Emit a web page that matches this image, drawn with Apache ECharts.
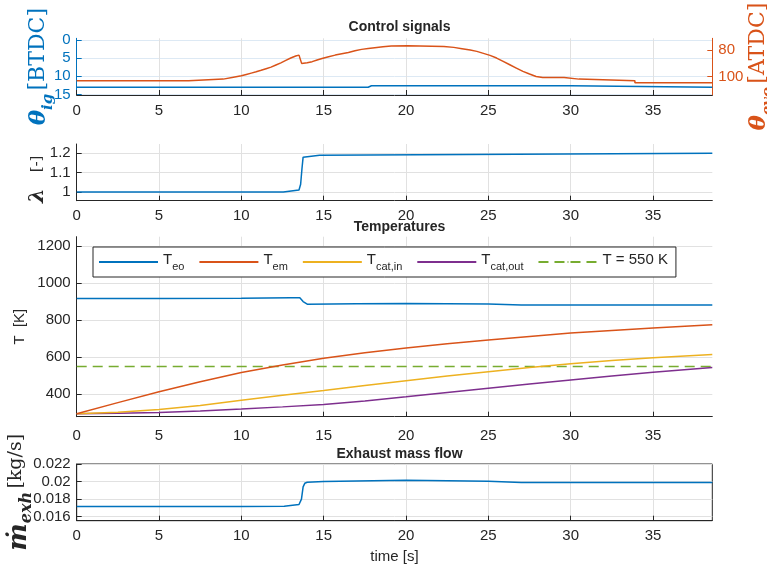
<!DOCTYPE html>
<html><head><meta charset="utf-8">
<script src="https://cdn.jsdelivr.net/npm/echarts@6/dist/echarts.min.js"></script>
<style>html,body{margin:0;padding:0;background:#fff}#c{width:767px;height:571px}</style>
</head><body><div id="c"></div>
<script>
// ---------- data ----------
const xTicks = [0, 5, 10, 15, 20, 25, 30, 35];
const X_MAX = 38.6;

// Control signals
const igTime = [0, 17.7, 17.9, 30.0, 30.1, 38.6];
const igVal  = [13.0, 13.0, 12.6, 12.6, 13.0, 13.0];
const igTicks = [0, 5, 10, 15];

const evoTime = [0, 6.8, 6.8, 8.9, 8.9, 9.6, 10.0, 10.3, 10.6, 10.9, 11.2, 11.5, 11.8, 12.1, 12.4, 12.7, 13.0, 13.3, 13.5, 13.62, 13.66, 14.0, 14.3, 14.6, 14.9, 15.3, 15.7, 16.1, 16.5, 16.9, 17.3, 17.7, 18.1, 18.6, 19.1, 20.1, 22.3, 22.9, 23.4, 23.9, 24.3, 24.7, 25.1, 25.5, 25.9, 26.3, 26.7, 27.1, 27.5, 27.9, 28.3, 29.6, 29.6, 30.5, 30.5, 33.9, 33.9, 38.6];
const evoVal  = [103, 103, 101.8, 101.8, 100.6, 100.2, 99.3, 98.3, 97.3, 96.3, 95.2, 94, 92.8, 91.2, 89.6, 87.8, 86, 84.5, 83.8, 83.8, 90, 89.5, 88.7, 87.5, 86.3, 85, 83.8, 82.8, 81.8, 80.6, 79.5, 78.9, 78.3, 77.6, 77, 76.8, 77.3, 78, 79, 80, 81, 82.5, 84, 86, 88.5, 91, 93.5, 96, 98, 99.8, 100.6, 100.6, 101.8, 101.8, 103, 103, 104.5, 104.5];
const evoTicks = [80, 100];

// lambda
const lamTime = [0, 12.55, 12.6, 13.5, 13.6, 13.68, 13.75, 13.85, 14.75, 14.8, 38.6];
const lamVal  = [1.0, 1.0, 1.01, 1.01, 1.04, 1.12, 1.18, 1.19, 1.19, 1.2, 1.2];
const lamTicks = [1, 1.1, 1.2];

// Temperatures
const tTime  = [0, 2.5, 5, 7.5, 10, 12.5, 15, 17.5, 20, 22.5, 25, 27.5, 30, 32.5, 35, 38.6];
const tEm    = [295, 355, 414, 468, 517, 558, 594, 624, 649, 673, 693, 712, 730, 744, 757, 775];
const tCatIn = [295, 303, 318, 340, 368, 395, 420, 447, 473, 498, 522, 545, 565, 582, 597, 615];
const tCatOut= [295, 297, 302, 310, 320, 332, 345, 364, 386, 409, 432, 455, 477, 498, 519, 544];
const eoTime = [0, 5, 10, 13.0, 13.55, 13.75, 14.0, 17, 20, 25, 27, 30, 38.6];
const tEo    = [917, 917, 918, 921, 921, 900, 886, 888, 890, 887, 882, 881, 881];
const tLimit = 550;
const tTicks = [400, 600, 800, 1000, 1200];

// Exhaust mass flow
const mTime = [0, 5, 10, 12.6, 13.5, 13.65, 13.75, 13.85, 14.0, 15, 20, 25, 27, 30, 38.6];
const mVal  = [0.01715, 0.01715, 0.01716, 0.0172, 0.01738, 0.0180, 0.0194, 0.0198, 0.01992, 0.0200, 0.02015, 0.02003, 0.0199, 0.01988, 0.01988];
const mTicks = [0.016, 0.018, 0.02, 0.022];

// ---------- helpers ----------
const pair = (xs, ys) => xs.map((x, i) => [x, ys[i]]);
const DARK = '#262626', BLUE = '#0072BD', ORANGE = '#D95319', YEL = '#EDB120', PURP = '#7E2F8E', GREEN = '#77AC30';
const GRIDC = '#e1e1e1';
const SANS = 'Liberation Sans', SERIF = 'DejaVu Serif';

function xAx(grid, margin, showName) {
  const a = {
    type: 'value', gridIndex: grid, min: 0, max: X_MAX,
    axisLine: { show: true, onZero: false, lineStyle: { color: DARK, width: 1 } },
    axisTick: { show: true, inside: true, length: 5, lineStyle: { color: DARK }, customValues: xTicks },
    axisLabel: { color: DARK, fontSize: 15, fontFamily: SANS, margin: margin, customValues: xTicks },
    splitLine: { show: true, lineStyle: { color: GRIDC, width: 1 } }
  };
  if (showName) {
    a.name = 'time [s]'; a.nameLocation = 'middle'; a.nameGap = 29; a.nameMoveOverlap = false;
    a.nameTextStyle = { color: DARK, fontSize: 15, fontFamily: SANS };
  }
  return a;
}
function yAx(grid, min, max, ticks, color, opts) {
  return Object.assign({
    type: 'value', gridIndex: grid, min: min, max: max, nameMoveOverlap: false,
    axisLine: { show: true, onZero: false, lineStyle: { color: color, width: 1 } },
    axisTick: { show: true, inside: true, length: 5, lineStyle: { color: color }, customValues: ticks },
    axisLabel: { color: color, fontSize: 15, fontFamily: SANS, margin: 6, customValues: ticks,
      formatter: v => String(+v.toFixed(4)) },
    splitLine: { show: true, lineStyle: { color: GRIDC, width: 1 } }
  }, opts || {});
}
function line(name, xi, yi, data, color, extra) {
  return Object.assign({
    name: name, type: 'line', xAxisIndex: xi, yAxisIndex: yi, data: data,
    showSymbol: false, symbol: 'none', animation: false, silent: true,
    lineStyle: { color: color, width: 1.5 }, itemStyle: { color: color }
  }, extra || {});
}
function gridBox(top, height, extra) {
  return Object.assign({ left: 76.7, right: 54.7, top: top, height: height,
    containLabel: false, outerBoundsMode: 'none' }, extra || {});
}
function mathRich(color, gSize, sSize, bSize) {
  return {
    g: { fontFamily: SERIF, fontWeight: 'bold', fontStyle: 'italic', fontSize: gSize, color: color, lineHeight: 28, verticalAlign: 'top' },
    s: { fontFamily: SERIF, fontWeight: 'bold', fontStyle: 'italic', fontSize: sSize, color: color, lineHeight: sSize, verticalAlign: 'bottom' },
    b: { fontFamily: SERIF, fontSize: bSize, color: color, lineHeight: 28, verticalAlign: 'top' }
  };
}

const legendLabels = {
  'Teo': '{m|T}{s|eo}', 'Tem': '{m|T}{s|em}', 'Tcat,in': '{m|T}{s|cat,in}',
  'Tcat,out': '{m|T}{s|cat,out}', 'T = 550 K': '{m|T = 550 K}'
};

const option = {
  animation: false,
  backgroundColor: '#fff',
  title: [
    { text: 'Control signals', left: 394.5, top: 15, textAlign: 'center',
      textStyle: { fontSize: 14, fontWeight: 'bold', color: DARK, fontFamily: SANS } },
    { text: 'Temperatures', left: 394.5, top: 215, textAlign: 'center',
      textStyle: { fontSize: 14, fontWeight: 'bold', color: DARK, fontFamily: SANS } },
    { text: 'Exhaust mass flow', left: 394.5, top: 442, textAlign: 'center',
      textStyle: { fontSize: 14, fontWeight: 'bold', color: DARK, fontFamily: SANS } }
  ],
  grid: [
    gridBox(38.3, 56.7),
    gridBox(144, 56.7),
    gridBox(236.7, 180),
    gridBox(464, 56.7, { show: true, borderColor: DARK, borderWidth: 1 })
  ],
  xAxis: [xAx(0, 8), xAx(1, 8), xAx(2, 12), xAx(3, 8, true)],
  yAxis: [
    yAx(0, -0.47, 15.14, igTicks, BLUE, {
      inverse: true,
      splitLine: { show: true, lineStyle: { color: '#dde9f4', width: 1 } },
      name: '{g|θ}{s|ig} {b|[BTDC]}', nameLocation: 'middle', nameRotate: 90, nameGap: 21,
      nameTextStyle: { rich: mathRich(BLUE, 23, 15, 22) }
    }),
    yAx(0, 71.2, 113.7, evoTicks, ORANGE, {
      inverse: true, position: 'right',
      splitLine: { show: false },
      name: '{g|θ}{s|evo} {b|[ATDC]}', nameLocation: 'middle', nameRotate: 90, nameGap: 35,
      nameTextStyle: { rich: mathRich(ORANGE, 23, 15, 22) }
    }),
    yAx(1, 0.955, 1.248, lamTicks, DARK, {
      name: '{g|λ}{b|[-]}', nameLocation: 'middle', nameRotate: 90, nameGap: 29,
      nameTextStyle: { rich: {
        g: { fontFamily: SERIF, fontWeight: 'bold', fontStyle: 'italic', fontSize: 21, color: DARK },
        b: { fontFamily: SERIF, fontSize: 15, color: DARK, padding: [0, 14, 0, 16] } } }
    }),
    yAx(2, 279, 1250, tTicks, DARK, {
      name: 'T  [K]', nameLocation: 'middle', nameRotate: 90, nameGap: 49,
      nameTextStyle: { fontFamily: SANS, fontSize: 15, color: DARK }
    }),
    yAx(3, 0.01554, 0.022, mTicks, DARK, {
      name: '{g|ṁ}{s|exh} {b|[kg/s]}', nameLocation: 'middle', nameRotate: 90, nameGap: 42,
      nameTextStyle: { rich: mathRich(DARK, 26, 16, 19) }
    })
  ],
  legend: {
    left: 93, top: 247, padding: [5, 8, 5, 5], itemGap: 14, itemWidth: 59, itemHeight: 2,
    backgroundColor: '#fff', borderColor: DARK, borderWidth: 1, borderRadius: 0,
    data: ['Teo', 'Tem', 'Tcat,in', 'Tcat,out', 'T = 550 K'],
    formatter: n => legendLabels[n],
    textStyle: { color: DARK, fontFamily: SANS, rich: {
      m: { fontSize: 15, fontFamily: SANS, color: DARK, lineHeight: 20, verticalAlign: 'top' },
      s: { fontSize: 11, fontFamily: SANS, color: DARK, lineHeight: 11, verticalAlign: 'bottom' } } }
  },
  series: [
    line('ig', 0, 0, pair(igTime, igVal), BLUE),
    line('evo', 0, 1, pair(evoTime, evoVal), ORANGE),
    line('lambda', 1, 2, pair(lamTime, lamVal), BLUE),
    line('T = 550 K', 2, 3, [[0, tLimit], [X_MAX, tLimit]], GREEN, { lineStyle: { color: GREEN, width: 1.5, type: [10, 6] } }),
    line('Tcat,out', 2, 3, pair(tTime, tCatOut), PURP),
    line('Tcat,in', 2, 3, pair(tTime, tCatIn), YEL),
    line('Tem', 2, 3, pair(tTime, tEm), ORANGE),
    line('Teo', 2, 3, pair(eoTime, tEo), BLUE),
    line('mdot', 3, 4, pair(mTime, mVal), BLUE)
  ]
};
const chart = echarts.init(document.getElementById('c'), null, { renderer: 'canvas' });
chart.setOption(option);
</script>
</body></html>
